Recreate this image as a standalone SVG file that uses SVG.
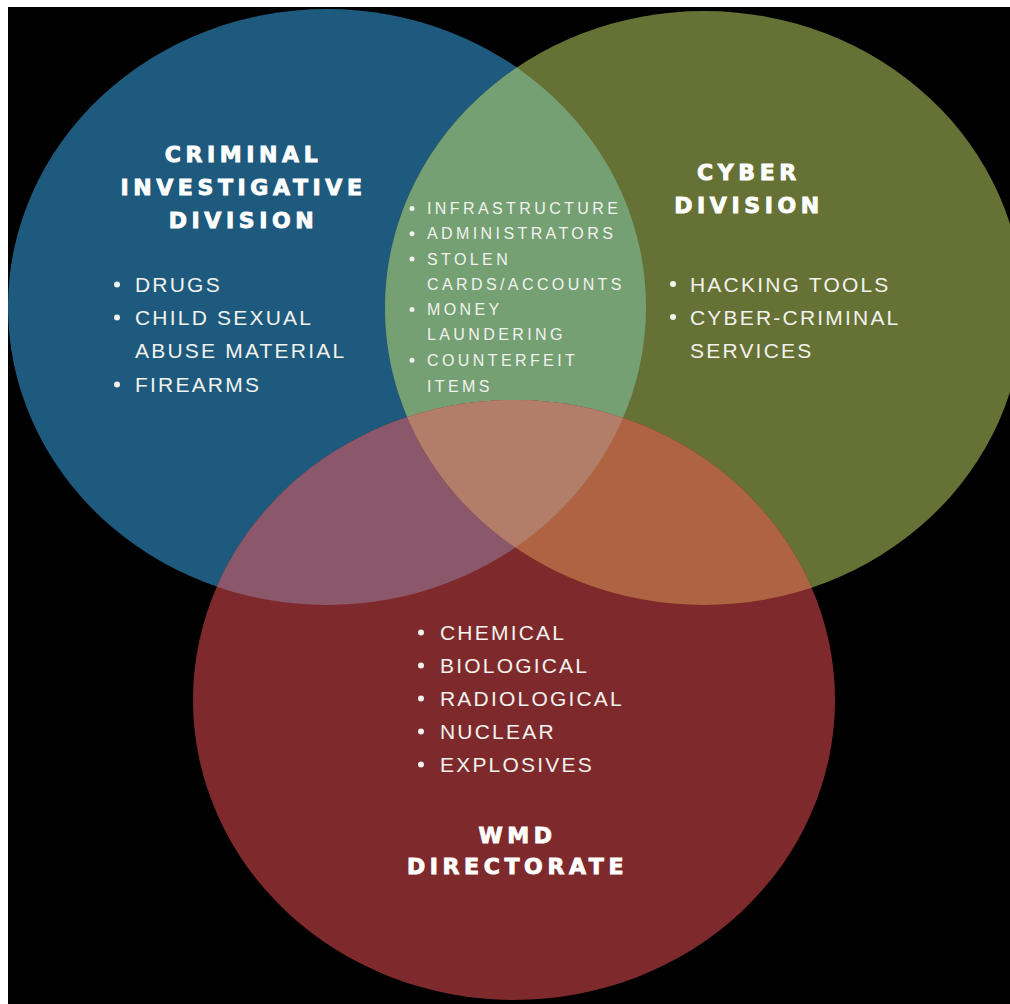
<svg xmlns="http://www.w3.org/2000/svg" width="1010" height="1004" viewBox="0 0 1010 1004">
<style>
.h{font-family:"DejaVu Sans",sans-serif;font-weight:bold;font-size:22px;letter-spacing:4.6px;fill:#ffffff;stroke:#ffffff;stroke-width:0.9px;text-anchor:middle}
.t{font-family:"Liberation Sans",Arial,sans-serif;font-size:21px;letter-spacing:2.2px;fill:#f2f2ee}
.s{font-family:"Liberation Sans",Arial,sans-serif;font-size:16px;letter-spacing:3.4px;fill:#f2f2ee}
.b{fill:#f2f2ee}
</style>
<defs>
<ellipse id="eBlue" cx="327" cy="307" rx="319" ry="298"/>
<ellipse id="eGreen" cx="704" cy="308" rx="319" ry="297"/>
<ellipse id="eRed" cx="514" cy="700" rx="321" ry="300"/>
<clipPath id="cBlue"><use href="#eBlue"/></clipPath>
<clipPath id="cGreen"><use href="#eGreen"/></clipPath>
</defs>
<rect x="0" y="0" width="1010" height="1004" fill="#ffffff"/>
<rect x="8" y="7" width="1002" height="997" fill="#000000"/>
<g id="shapes">
<use href="#eBlue" fill="#1e5a7d"/>
<use href="#eGreen" fill="#657135"/>
<g clip-path="url(#cBlue)"><use href="#eGreen" fill="#75a074"/></g>
<use href="#eRed" fill="#7e2a2c"/>
<g clip-path="url(#cBlue)"><use href="#eRed" fill="#8a586a"/></g>
<g clip-path="url(#cGreen)"><use href="#eRed" fill="#ae6442"/></g>
<g clip-path="url(#cBlue)"><g clip-path="url(#cGreen)"><use href="#eRed" fill="#b37e69"/></g></g>
</g>
<g id="criminal-investigative-division">
<text class="h" x="243.5" y="162">CRIMINAL</text>
<text class="h" x="243.5" y="195">INVESTIGATIVE</text>
<text class="h" x="243.5" y="228">DIVISION</text>
<circle class="b" cx="117" cy="284.5" r="3"/>
<text class="t" x="135" y="292">DRUGS</text>
<circle class="b" cx="117" cy="317.5" r="3"/>
<text class="t" x="135" y="325">CHILD SEXUAL</text>
<text class="t" x="135" y="358">ABUSE MATERIAL</text>
<circle class="b" cx="117" cy="384.5" r="3"/>
<text class="t" x="135" y="392">FIREARMS</text>
</g>
<g id="cyber-division">
<text class="h" x="749" y="180">CYBER</text>
<text class="h" x="749" y="213">DIVISION</text>
<circle class="b" cx="673" cy="284" r="3"/>
<text class="t" x="690" y="292">HACKING TOOLS</text>
<circle class="b" cx="673" cy="317" r="3"/>
<text class="t" x="690" y="325">CYBER-CRIMINAL</text>
<text class="t" x="690" y="358">SERVICES</text>
</g>
<g id="shared-criminal-cyber">
<circle class="b" cx="412" cy="208.5" r="2.5"/>
<text class="s" x="427" y="214">INFRASTRUCTURE</text>
<circle class="b" cx="412" cy="233.8" r="2.5"/>
<text class="s" x="427" y="239.3">ADMINISTRATORS</text>
<circle class="b" cx="412" cy="259" r="2.5"/>
<text class="s" x="427" y="264.5">STOLEN</text>
<text class="s" x="427" y="289.8">CARDS/ACCOUNTS</text>
<circle class="b" cx="412" cy="309.5" r="2.5"/>
<text class="s" x="427" y="315">MONEY</text>
<text class="s" x="427" y="340.3">LAUNDERING</text>
<circle class="b" cx="412" cy="360.2" r="2.5"/>
<text class="s" x="427" y="365.7">COUNTERFEIT</text>
<text class="s" x="427" y="391.5">ITEMS</text>
</g>
<g id="wmd-directorate">
<circle class="b" cx="421" cy="632.5" r="3"/>
<text class="t" x="440" y="640">CHEMICAL</text>
<circle class="b" cx="421" cy="665.5" r="3"/>
<text class="t" x="440" y="673">BIOLOGICAL</text>
<circle class="b" cx="421" cy="698.5" r="3"/>
<text class="t" x="440" y="706">RADIOLOGICAL</text>
<circle class="b" cx="421" cy="731.5" r="3"/>
<text class="t" x="440" y="739">NUCLEAR</text>
<circle class="b" cx="421" cy="764.5" r="3"/>
<text class="t" x="440" y="772">EXPLOSIVES</text>
<text class="h" x="517.5" y="843">WMD</text>
<text class="h" x="517.5" y="874">DIRECTORATE</text>
</g>
<g id="connectors"></g>
</svg>
